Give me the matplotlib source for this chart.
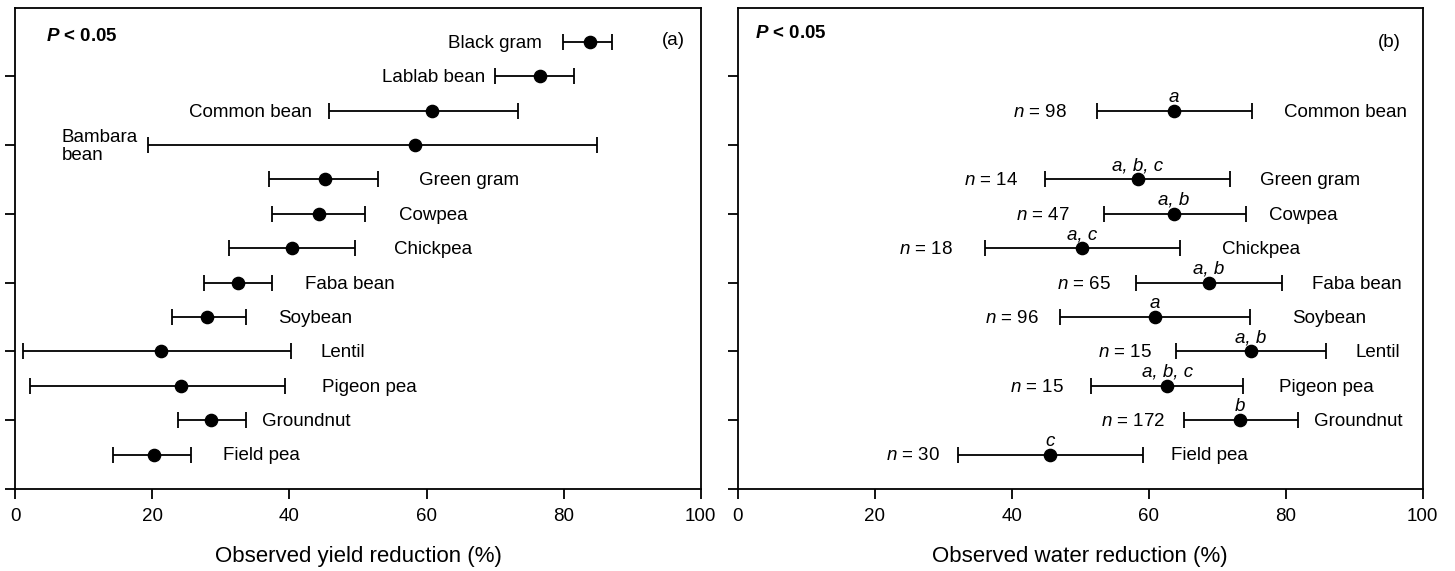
import numpy as np
import matplotlib
matplotlib.use('Agg')
import matplotlib.pyplot as plt

plt.rcParams['font.family'] = ['Liberation Sans', 'DejaVu Sans']
plt.rcParams['mathtext.fontset'] = 'custom'
plt.rcParams['mathtext.rm'] = 'Liberation Sans'
plt.rcParams['mathtext.it'] = 'Liberation Sans:italic'
plt.rcParams['mathtext.bf'] = 'Liberation Sans:bold'
plt.rcParams['mathtext.bfit'] = 'Liberation Sans:bold:italic'

# (a) rendement
especes_a = ['Black gram', 'Lablab bean', 'Common bean', 'Bambara\nbean', 'Green gram',
             'Cowpea', 'Chickpea', 'Faba bean', 'Soybean', 'Lentil', 'Pigeon pea',
             'Groundnut', 'Field pea']
moy_a = [83.8, 76.5, 60.8, 58.3, 45.2, 44.3, 40.4, 32.5, 28.0, 21.3, 24.2, 28.6, 20.2]
bas_a = [79.9, 70.0, 45.8, 19.4, 37.0, 37.4, 31.2, 27.5, 22.9, 1.1, 2.2, 23.7, 14.3]
haut_a = [87.0, 81.5, 73.3, 84.8, 52.9, 51.0, 49.6, 37.5, 33.7, 40.2, 39.3, 33.7, 25.7]

# (b) eau
especes_b = ['Common bean', 'Green gram', 'Cowpea', 'Chickpea', 'Faba bean', 'Soybean',
             'Lentil', 'Pigeon pea', 'Groundnut', 'Field pea']
moy_b = [63.7, 58.4, 63.7, 50.3, 68.8, 60.9, 74.9, 62.7, 73.3, 45.6]
bas_b = [52.5, 44.9, 53.5, 36.1, 58.2, 47.1, 64.0, 51.6, 65.1, 32.1]
haut_b = [75.1, 71.9, 74.2, 64.6, 79.4, 74.8, 85.9, 73.8, 81.8, 59.2]
n_b = [98, 14, 47, 18, 65, 96, 15, 15, 172, 30]
lettres_b = ['a', 'a, b, c', 'a, b', 'a, c', 'a, b', 'a', 'a, b', 'a, b, c', 'b', 'c']

# positions des lignes et des étiquettes
y_a = np.arange(6.5, 0, -0.5)
y_b = [5.5, 4.5, 4.0, 3.5, 3.0, 2.5, 2.0, 1.5, 1.0, 0.5]
x_nom_a = [76.9, 68.6, 43.3, 6.8, 58.9, 56.0, 55.2, 42.2, 38.4, 44.6, 44.8, 36.0, 30.3]
cote_a = ['right', 'right', 'right', 'left'] + ['left'] * 9
x_nom_b = [79.7, 76.2, 77.6, 70.7, 83.9, 80.9, 90.2, 79.0, 84.1, 63.2]
x_n_b = [48.1, 40.9, 48.5, 31.4, 54.5, 44.0, 60.5, 47.7, 62.4, 29.5]

fs = 13.5
W, H = 1455, 571
fig = plt.figure(figsize=(W / 100, H / 100), dpi=100)
ax1 = fig.add_axes([15.3 / W, 1 - 489 / H, 685.4 / W, 481.5 / H])
ax2 = fig.add_axes([737.7 / W, 1 - 489 / H, 685.0 / W, 481.5 / H])


def barres(ax, moy, bas, haut, y):
    moy = np.array(moy)
    err = [moy - np.array(bas), np.array(haut) - moy]
    ax.errorbar(moy, y, xerr=err, fmt='o', color='black', ms=8.8,
                elinewidth=1.3, capsize=6, capthick=1.3)


barres(ax1, moy_a, bas_a, haut_a, y_a)
for nom, x, y, ha in zip(especes_a, x_nom_a, y_a, cote_a):
    ax1.text(x, y - 0.02, nom, ha=ha, va='center', fontsize=fs, linespacing=1.1)

barres(ax2, moy_b, bas_b, haut_b, y_b)
for i in range(len(especes_b)):
    ax2.text(x_nom_b[i], y_b[i] - 0.02, especes_b[i], ha='left', va='center', fontsize=fs)
    ax2.text(x_n_b[i], y_b[i] - 0.02, r'$\mathit{n}$ = %d' % n_b[i], ha='right',
             va='center', fontsize=fs)
    ax2.text(moy_b[i], y_b[i] + 0.13, lettres_b[i], ha='center', va='baseline',
             fontsize=fs, style='italic')

ax1.text(4.5, 6.58, r'$\mathbfit{P}$ < 0.05', fontsize=fs, fontweight='bold', va='center')
ax2.text(2.5, 6.62, r'$\mathbfit{P}$ < 0.05', fontsize=fs, fontweight='bold', va='center')
ax1.text(96.0, 6.52, '(a)', fontsize=fs, ha='center', va='center')
ax2.text(95.1, 6.49, '(b)', fontsize=fs, ha='center', va='center')

ax1.set_xlabel('Observed yield reduction (%)', fontsize=16, labelpad=15)
ax2.set_xlabel('Observed water reduction (%)', fontsize=16, labelpad=15)

for ax in (ax1, ax2):
    ax.set_xlim(0, 100)
    ax.set_ylim(0, 7)
    ax.set_xticks(range(0, 101, 20))
    ax.set_yticks(range(0, 7))
    ax.set_yticklabels([])
    ax.tick_params(axis='both', direction='out', length=7, width=1.3,
                   labelsize=fs, pad=7)
    for s in ax.spines.values():
        s.set_linewidth(1.3)

plt.savefig('out.png', dpi=100)
